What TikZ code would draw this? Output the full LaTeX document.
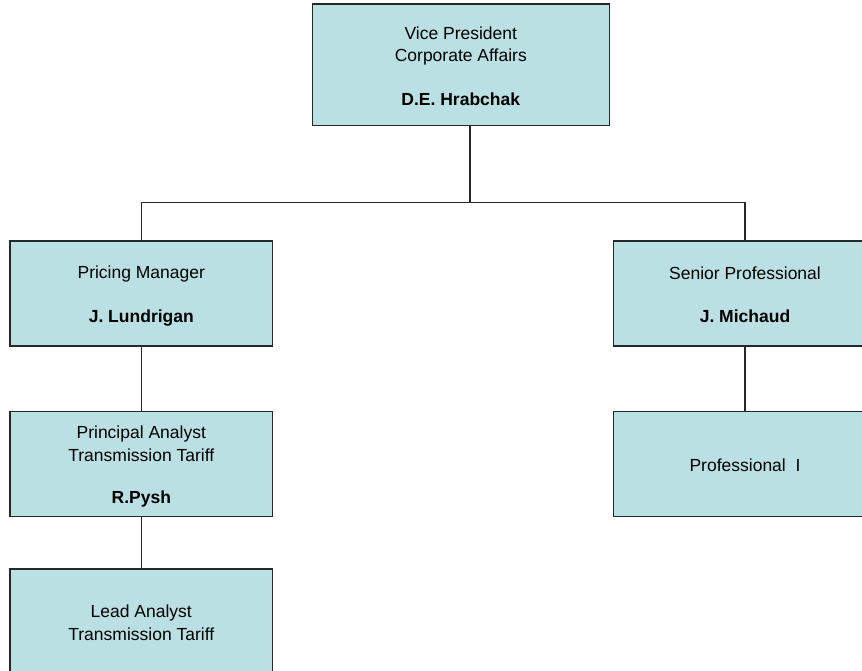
\documentclass[tikz,border=0pt]{standalone}
\usepackage{fontspec}
\setmainfont{Liberation Sans}
\usepackage{tikz}

\definecolor{boxfill}{RGB}{187,224,227}
\definecolor{boxline}{RGB}{35,40,40}
% one line of a box, all lines the same height
\newcommand{\rowstrut}{\rule[-3pt]{0pt}{21.2pt}}

\begin{document}
\begin{tikzpicture}[x=1pt,y=-1pt,
  post/.style={draw=boxline, line width=1.6pt, fill=boxfill, inner sep=0pt,
    minimum width=262.7pt, minimum height=104.8pt, align=center,
    font=\fontsize{17.5}{21.3}\selectfont},
  link/.style={draw=boxline, line width=1.3pt}]
\useasboundingbox (0,0) rectangle (862,671);

\node[post, minimum width=297pt, minimum height=121.4pt] (vp) at (460.8,65)
  {\rowstrut Vice President\\ \rowstrut Corporate Affairs\\ \rowstrut\\ \rowstrut\textbf{D.E. Hrabchak}};

% left branch
\node[post] (pm) at (141.3,293.5)
  {\rowstrut Pricing Manager\\ \rowstrut\\ \rowstrut\textbf{J. Lundrigan}};
\node[post] (pa) at (141.3,463.9)
  {\rowstrut Principal Analyst\\ \rowstrut Transmission Tariff\\ \rowstrut\\ \rowstrut\textbf{R.Pysh}};
\node[post] (la) at (141.3,621.4)
  {\rowstrut Lead Analyst\\ \rowstrut Transmission Tariff};

% right branch
\node[post] (sp) at (745,293.5)
  {\rowstrut Senior Professional\\ \rowstrut\\ \rowstrut\textbf{J. Michaud}};
\node[post] (pr) at (745,463.9)
  {\rowstrut Professional~~I};

\draw[link] ([xshift=9.2pt]vp.south) -- ++(0,76) coordinate (hub);
\draw[link] (pm.north) |- (hub) -| (sp.north);
\draw[link] (pm.south) -- (pa.north);
\draw[link] (pa.south) -- (la.north);
\draw[link] (sp.south) -- (pr.north);
\end{tikzpicture}
\end{document}
